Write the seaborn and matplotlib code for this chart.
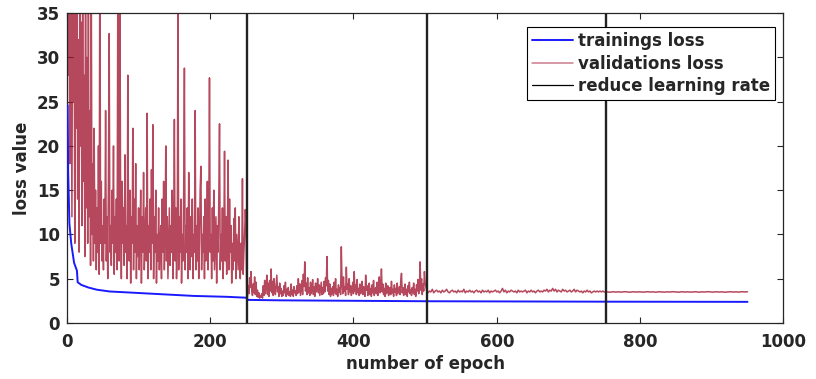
import numpy as np
import pandas as pd
import matplotlib
matplotlib.use("Agg")
import matplotlib.pyplot as plt
import seaborn as sns
from matplotlib.lines import Line2D

# ---------------- data ----------------
train_epochs = [1, 1.8, 3.5, 6, 10, 14, 15, 20, 30, 42, 60, 84, 130, 177, 223, 250,
                253, 300, 500, 750, 950]
train_loss = [24.6, 17.0, 11.2, 9.0, 6.8, 5.9, 4.6, 4.3, 4.0, 3.75, 3.55, 3.45, 3.25,
              3.05, 2.95, 2.85, 2.6, 2.55, 2.45, 2.4, 2.38]

# validation loss, epochs 1..250 (one value per epoch)
val_seg1 = [
    45, 28, 40, 18, 50, 30, 12, 42, 25, 38,
    9, 36, 22, 44, 14, 32, 8, 40, 20, 34,
    11, 38, 16, 28, 7.5, 42, 13, 30, 9, 36,
    12, 24, 6.5, 40, 10, 18, 7, 22, 9, 15,
    6, 13, 8, 20, 5.5, 45, 9, 16, 7, 11,
    6, 14, 9, 24, 7, 12, 5, 17, 32.7, 8,
    11, 6.5, 15, 9, 20, 5.5, 12, 8, 14, 6,
    36, 10, 7, 38, 12, 5, 16, 9, 13, 6.5,
    19, 8, 11, 5, 28, 10, 7, 15, 4.5, 12,
    9, 22, 6, 14, 8, 18, 5, 11, 7.5, 13,
    6, 10, 15, 4.5, 12, 8, 17, 6, 9, 13,
    7, 23.7, 5, 11, 8, 14, 6, 17.3, 9, 22.4,
    5, 12, 8, 15, 4.5, 10, 7, 13, 6, 9,
    11, 5, 14, 8, 16, 6, 10, 20, 7, 12,
    5, 9, 13, 6.5, 11, 8, 15, 5, 10, 23,
    7, 13, 5, 9, 36, 6, 12, 8, 14, 4.5,
    10, 7, 15, 28.8, 6, 11, 8, 13, 5, 17,
    9, 6, 12, 7.5, 14, 5, 10, 8, 24, 6,
    11, 7, 13, 5, 9, 15, 17.7, 6, 10, 8,
    12, 5, 14, 7, 9, 16, 6, 11, 27.7, 8,
    10, 5, 13, 7, 15, 6, 9, 12, 4.5, 11,
    8, 14, 22.5, 6, 10, 7, 13, 5, 9, 19.4,
    7, 12, 5.5, 10, 18.4, 6, 14, 8, 11, 4.5,
    9, 6, 11.8, 7, 13, 5, 10, 8, 6, 12,
    7, 5, 9, 6, 16.3, 5.5, 8, 10, 12.8, 11,
]
# validation loss, epochs 251..500 (one value per epoch)
val_seg2 = [
    3.0, 2.9, 4.2, 3.3, 5.1, 4.0, 5.8, 3.6, 3.1, 4.4,
    3.4, 5.2, 3.2, 4.6, 3.0, 3.7, 2.9, 3.4, 2.8, 3.1,
    2.9, 3.3, 2.8, 4.2, 3.1, 4.8, 3.3, 4.0, 5.4, 3.2,
    4.5, 3.0, 4.8, 3.6, 6.1, 3.4, 4.7, 3.1, 5.0, 3.8,
    3.2, 4.3, 5.4, 3.5, 4.1, 3.0, 4.5, 3.3, 3.9, 3.0,
    3.6, 3.1, 4.2, 3.4, 4.6, 3.0, 3.8, 3.2, 4.0, 3.1,
    3.5, 3.0, 4.4, 3.2, 3.7, 3.0, 4.1, 3.4, 3.6, 3.1,
    4.2, 3.3, 5.0, 3.5, 4.4, 3.1, 3.9, 4.8, 3.2, 5.5,
    4.1, 6.9, 3.6, 4.5, 3.2, 5.1, 3.4, 4.0, 3.1, 4.6,
    3.3, 3.8, 4.9, 3.2, 4.1, 3.0, 4.5, 3.5, 3.9, 5.0,
    3.4, 4.3, 3.1, 3.8, 4.6, 3.2, 4.0, 3.3, 4.7, 3.5,
    5.1, 4.2, 7.5, 3.6, 4.8, 3.2, 4.4, 3.0, 3.9, 3.3,
    4.1, 3.1, 4.6, 3.4, 5.0, 3.2, 3.8, 3.0, 4.3, 3.5,
    4.0, 3.2, 8.6, 4.5, 3.3, 5.2, 3.6, 4.1, 3.1, 6.3,
    3.8, 4.4, 3.2, 5.0, 3.5, 4.2, 3.1, 3.7, 4.6, 3.3,
    5.8, 3.6, 4.3, 3.2, 4.9, 3.4, 3.9, 3.1, 4.4, 3.3,
    3.8, 4.7, 3.2, 4.1, 3.5, 3.0, 5.4, 3.7, 4.2, 3.1,
    3.6, 4.5, 3.2, 3.9, 3.0, 4.3, 3.4, 4.8, 3.1, 3.7,
    4.0, 3.3, 4.6, 3.1, 3.8, 5.2, 3.4, 4.1, 6.1, 3.5,
    4.4, 3.2, 3.9, 3.0, 4.5, 3.3, 3.7, 4.2, 3.1, 3.6,
    4.0, 3.2, 4.7, 3.4, 3.8, 3.0, 4.3, 3.5, 3.9, 3.1,
    4.5, 3.3, 3.7, 4.1, 3.2, 4.8, 5.6, 3.4, 4.0, 3.1,
    3.6, 4.4, 3.2, 3.8, 3.0, 4.2, 3.5, 4.6, 3.3, 3.7,
    3.1, 4.0, 3.4, 4.5, 3.2, 3.8, 3.0, 4.3, 3.6, 4.9,
    3.3, 4.1, 6.9, 3.7, 5.0, 3.2, 4.4, 3.6, 5.8, 4.5,
]
# validation loss, epochs 502..752 (every 2nd epoch)
val_seg3 = [
    3.7, 3.4, 3.6, 3.5, 3.8, 3.4, 3.6, 3.7, 3.5, 3.6,
    3.4, 3.7, 3.5, 3.6, 3.8, 3.5, 3.4, 3.6, 3.7, 3.5,
    3.6, 3.4, 3.7, 3.5, 3.6, 3.5, 3.8, 3.4, 3.6, 3.5,
    3.7, 3.5, 3.6, 3.4, 3.6, 3.7, 3.5, 3.6, 3.4, 3.7,
    3.5, 3.6, 3.5, 3.7, 3.4, 3.6, 3.5, 3.6, 3.7, 3.5,
    3.6, 3.4, 3.6, 3.9, 3.5, 3.7, 3.4, 3.6, 3.5, 3.7,
    3.6, 3.5, 3.6, 3.4, 3.7, 3.5, 3.6, 3.5, 3.6, 3.7,
    3.4, 3.6, 3.5, 3.7, 3.5, 3.6, 3.4, 3.6, 3.7, 3.5,
    3.6, 3.5, 3.7, 3.6, 3.8, 3.5, 3.7, 3.6, 3.9, 3.6,
    3.8, 3.5, 3.7, 3.6, 3.5, 3.8, 3.6, 3.7, 3.5, 3.6,
    3.7, 3.5, 3.6, 3.8, 3.5, 3.7, 3.6, 3.5, 3.6, 3.4,
    3.6, 3.5, 3.7, 3.5, 3.6, 3.4, 3.5, 3.6, 3.5, 3.6,
    3.5, 3.6, 3.5, 3.6, 3.5, 3.5,
]
# validation loss, epochs 754..950 (every 4th epoch)
val_seg4 = [
    3.50, 3.47, 3.52, 3.49, 3.51, 3.48, 3.53, 3.50, 3.47, 3.52,
    3.49, 3.51, 3.50, 3.48, 3.53, 3.49, 3.51, 3.47, 3.52, 3.50,
    3.48, 3.51, 3.49, 3.53, 3.50, 3.47, 3.52, 3.49, 3.51, 3.48,
    3.50, 3.52, 3.47, 3.51, 3.49, 3.53, 3.50, 3.48, 3.52, 3.49,
    3.51, 3.47, 3.50, 3.52, 3.49, 3.51, 3.48, 3.53, 3.50, 3.52,
]
lr_epochs = [251, 502, 753]

labels = ["trainings loss", "validations loss", "reduce learning rate"]
x_ticks = [0, 200, 400, 600, 800, 1000]
y_ticks = [0, 5, 10, 15, 20, 25, 30, 35]

# ---------------- build tables ----------------
val_epochs = np.concatenate([
    np.arange(1, 1 + len(val_seg1)),
    np.arange(251, 251 + len(val_seg2)),
    np.arange(502, 502 + 2 * len(val_seg3), 2),
    np.arange(754, 754 + 4 * len(val_seg4), 4),
])
val_df = pd.DataFrame({"epoch": val_epochs,
                       "loss": val_seg1 + val_seg2 + val_seg3 + val_seg4})
train_df = pd.DataFrame({"epoch": train_epochs, "loss": train_loss})

# ---------------- style ----------------
sns.set_style("white")
plt.rcParams["font.family"] = ["DejaVu Sans"]
plt.rcParams["font.weight"] = "bold"

BLUE = "#1a1aff"
RED = "#A2142F"
EDGE = "#262626"

fig = plt.figure(figsize=(8.16, 3.79), dpi=100)
ax = fig.add_axes([0.082, 0.148, 0.878, 0.817])

sns.lineplot(data=val_df, x="epoch", y="loss", ax=ax, color=RED, lw=1.1,
             alpha=0.78, estimator=None, errorbar=None, sort=False, zorder=2)
sns.lineplot(data=train_df, x="epoch", y="loss", ax=ax, color=BLUE, lw=1.4,
             estimator=None, errorbar=None, sort=False, zorder=3)
for e in lr_epochs:
    ax.axvline(e, color="#222222", lw=1.7, zorder=4)

ax.set_xlim(0, 1000)
ax.set_ylim(0, 35)
ax.set_xticks(x_ticks)
ax.set_yticks(y_ticks)
ax.set_xticklabels([str(t) for t in x_ticks], fontsize=12, fontweight="bold", color=EDGE)
ax.set_yticklabels([str(t) for t in y_ticks], fontsize=12, fontweight="bold", color=EDGE)
ax.tick_params(axis="both", direction="in", length=4, width=0.8, color=EDGE,
               top=True, right=True, bottom=True, left=True)
ax.tick_params(axis="x", pad=7)
ax.tick_params(axis="y", pad=5)
for s in ax.spines.values():
    s.set_visible(True)
    s.set_color(EDGE)
    s.set_linewidth(0.9)

ax.set_xlabel("number of epoch", fontsize=12, fontweight="bold", color=EDGE, labelpad=3)
ax.set_ylabel("loss value", fontsize=12, fontweight="bold", color=EDGE, labelpad=4)

handles = [Line2D([], [], color=BLUE, lw=1.4),
           Line2D([], [], color=RED, lw=1.1, alpha=0.55),
           Line2D([], [], color="black", lw=0.9)]
leg = ax.legend(handles, labels, loc="upper right", bbox_to_anchor=(0.989, 0.956),
                borderaxespad=0, frameon=True, fancybox=False, framealpha=1,
                edgecolor="black", prop={"size": 12, "weight": "bold"},
                handlelength=2.5, handletextpad=0.3, labelspacing=0.28,
                borderpad=0.3)
leg.get_frame().set_linewidth(0.8)
leg.set_zorder(10)

fig.savefig("out.png", dpi=100)
